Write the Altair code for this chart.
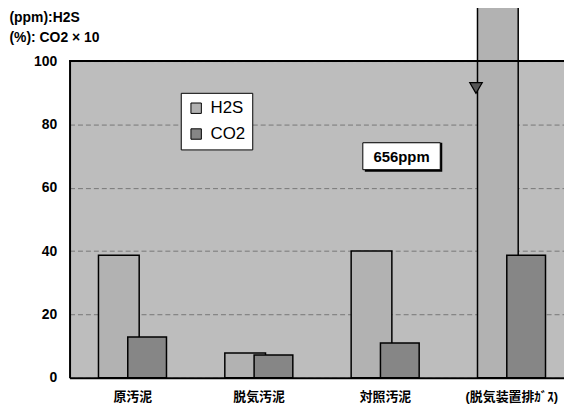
import altair as alt
import pandas as pd

categories = ["原汚泥", "脱気汚泥", "対照汚泥", "(脱気装置排ｶﾞｽ)"]
h2s_values = [38.7, 7.8, 40.0, 656]
co2_values = [12.9, 7.2, 11.0, 38.7]
series = ["H2S", "CO2"]
series_colors = ["#b2b2b2", "#868686"]
y_ticks = [0, 20, 40, 60, 80, 100]
note_cat = ["(脱気装置排ｶﾞｽ)"]
note_text = ["656ppm"]
note_y = [69.7]
note_lo = [65.7]
note_hi = [74.2]
marker_y = [91.5]

rows = []
for c, h, o in zip(categories, h2s_values, co2_values):
    rows.append({"cat": c, "series": "H2S", "value": h})
    rows.append({"cat": c, "series": "CO2", "value": o})
df = pd.DataFrame(rows)
note_df = pd.DataFrame({"cat": note_cat, "text": note_text, "value": note_y,
                        "lo": note_lo, "hi": note_hi, "mk": marker_y})

FONT = "Liberation Sans, Arial, Noto Sans CJK JP"

xscale = alt.Scale(domain=categories, range=[0, 509], paddingInner=0, paddingOuter=0)
xaxis = alt.Axis(title=None, labelAngle=0, ticks=False, domain=True, domainColor="black",
                 domainWidth=2, labelPadding=13, labelFontSize=13, labelFont=FONT,
                 labelFontWeight="bold", labelColor="black")
yscale = alt.Scale(domain=[0, 100], nice=False)
yaxis = alt.Axis(values=y_ticks, ticks=False, domain=True, domainColor="black", domainWidth=2,
                 labelPadding=13, labelFontSize=14, labelFont=FONT, labelColor="black",
                 labelFontWeight="bold",
                 grid=True, gridDash=[5, 3], gridColor="#333333", gridOpacity=0.5,
                 title=["(ppm):H2S", "(%): CO2 × 10"], titleAngle=0, titleX=-61, titleY=-51,
                 titleAlign="left", titleBaseline="top", titleFontSize=14, titleFont=FONT,
                 titleFontWeight="bold", titleLineHeight=20, titleColor="black")

X = alt.X("cat:N", sort=categories, scale=xscale, axis=xaxis)

color = alt.Color("series:N", scale=alt.Scale(domain=series, range=series_colors),
                  legend=alt.Legend(title=None, orient="none", legendX=112, legendY=32,
                                    fillColor="white", strokeColor="black", padding=7,
                                    symbolType="square", symbolSize=110,
                                    symbolStrokeColor="black", symbolStrokeWidth=1,
                                    labelFontSize=17, labelFont=FONT, labelColor="black",
                                    rowPadding=8, labelOffset=6))

base = alt.Chart(df)
h2s = base.transform_filter(alt.datum.series == "H2S").mark_bar(
    width=41, xOffset=-14, stroke="black", strokeWidth=1.5).encode(
    x=X, y=alt.Y("value:Q", scale=yscale, axis=yaxis), color=color)
co2 = base.transform_filter(alt.datum.series == "CO2").mark_bar(
    width=39, xOffset=14.5, stroke="black", strokeWidth=1.5).encode(
    x=X, y=alt.Y("value:Q", scale=yscale, axis=yaxis), color=color)

top_rule = alt.Chart(df).mark_rule(color="black", strokeWidth=1.5).encode(
    y=alt.datum(100))

nb = alt.Chart(note_df)
shadow = nb.mark_bar(width=78, xOffset=-109, yOffset=2, color="black").encode(
    x=X, y=alt.Y("lo:Q", scale=yscale, axis=yaxis), y2="hi:Q")
box = nb.mark_bar(width=78, xOffset=-111, fill="white", stroke="black", strokeWidth=1).encode(
    x=X, y=alt.Y("lo:Q", scale=yscale, axis=yaxis), y2="hi:Q")
label = nb.mark_text(xOffset=-111, fontSize=15, fontWeight="bold", font=FONT, color="black").encode(
    x=X, y=alt.Y("value:Q", scale=yscale, axis=yaxis), text="text:N")
marker = nb.mark_point(shape="triangle-down", size=160, filled=True, fill="#555555",
                       stroke="black", strokeWidth=1.2, opacity=1, xOffset=-36).encode(
    x=X, y=alt.Y("mk:Q", scale=yscale, axis=yaxis))

chart = alt.layer(h2s, co2, top_rule, shadow, box, label, marker).properties(
    width=498, height=319,
    autosize=alt.AutoSizeParams(type="none"),
    padding={"left": 62, "top": 52, "right": 0, "bottom": 27},
    background="white",
).configure_view(stroke=None, fill="#bdbdbd")

chart.save("out.html", embed_options={"renderer": "svg", "actions": False})
